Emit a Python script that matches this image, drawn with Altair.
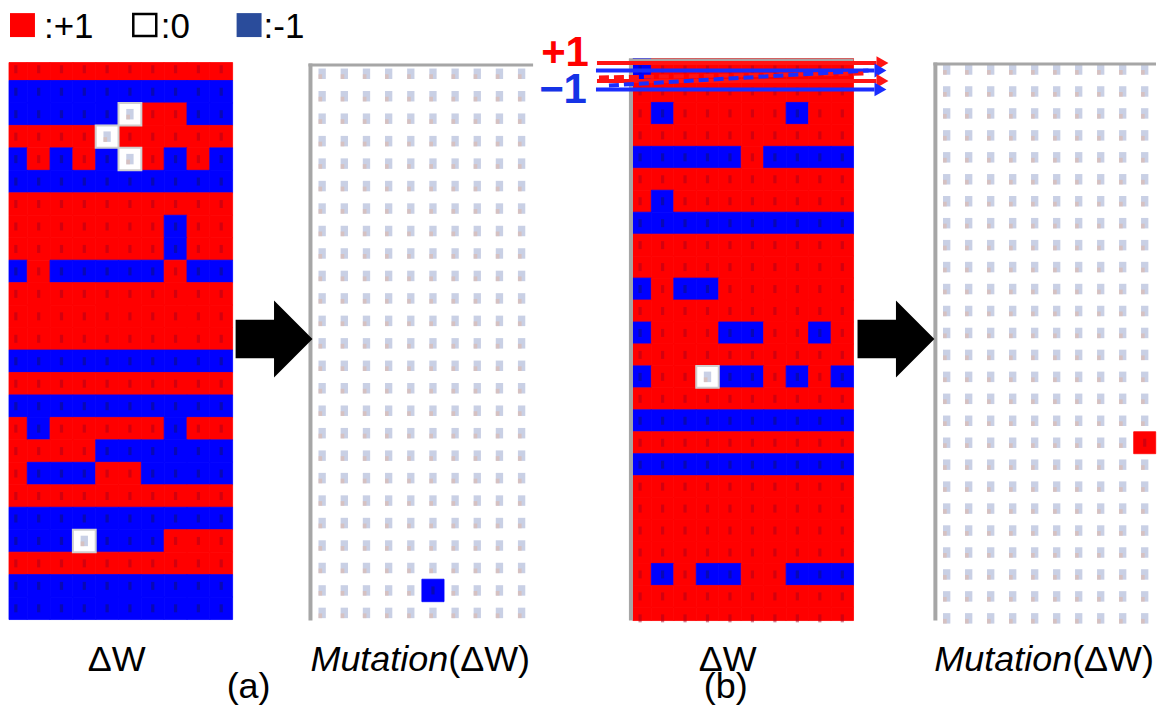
import altair as alt
import pandas as pd

W, H = 1149, 702
OFF = 8  # page margin: annotation coordinates below are page pixels

# ---------------- data: one string per row (top to bottom), "+"=+1, "0"=0, "-"=-1
DW_A = [
    "++++++++++", "----------", "-----0++--", "++++0+++++", "-+-+-0+-+-",
    "----------", "++++++++++", "+++++++-++", "+++++++-++", "-+-----+--",
    "++++++++++", "++++++++++", "++++++++++", "----------", "++++++++++",
    "----------", "+-+++++-++", "++++------", "+---++----", "++++++++++",
    "----------", "---0---+++", "++++++++++", "----------", "----------",
]
MUT_A = [
    "0000000000", "0000000000", "0000000000", "0000000000", "0000000000",
    "0000000000", "0000000000", "0000000000", "0000000000", "0000000000",
    "0000000000", "0000000000", "0000000000", "0000000000", "0000000000",
    "0000000000", "0000000000", "0000000000", "0000000000", "0000000000",
    "0000000000", "0000000000", "0000000000", "00000-0000", "0000000000",
]
DW_B = [
    "-+++++++++", "++++++++++", "+-+++++-++", "++++++++++", "-----+----",
    "++++++++++", "+-++++++++", "----------", "++++++++++", "++++++++++",
    "-+--++++++", "++++++++++", "-+++--++-+", "++++++++++", "-++0--+-+-",
    "++++++++++", "----------", "++++++++++", "----------", "++++++++++",
    "++++++++++", "++++++++++", "++++++++++", "+-+--++---", "++++++++++",
    "++++++++++",
]
MUT_B = [
    "0000000000", "0000000000", "0000000000", "0000000000", "0000000000",
    "0000000000", "0000000000", "0000000000", "0000000000", "0000000000",
    "0000000000", "0000000000", "0000000000", "0000000000", "0000000000",
    "0000000000", "0000000000", "000000000+", "0000000000", "0000000000",
    "0000000000", "0000000000", "0000000000", "0000000000", "0000000000",
    "0000000000",
]
LEGEND_LABELS = [":+1", ":0", ":-1"]
PANEL_LABELS = ["ΔW", "Mutation", "(ΔW)", "(a)", "(b)"]
ROW_LABELS = ["+1", "−1"]

VAL = {"+": 1, "0": 0, "-": -1}
FONT = "Liberation Sans"


def grid(rows):
    return pd.DataFrame(
        [{"col": c, "row": r, "v": VAL[ch]} for r, s in enumerate(rows) for c, ch in enumerate(s)]
    )


def sc(dom, px):
    return alt.Scale(domain=dom, range=[px[0] - OFF, px[1] - OFF], clamp=True, nice=False, zero=False)


FILL = "datum.v == 1 ? '#ff0000' : (datum.v == -1 ? '#0000ff' : '#ffffff')"
DOTC = "datum.v == 1 ? '#a8001c' : '#10106a'"
DOT_SHAPE = "M-0.4,-1L0.4,-1L0.4,1L-0.4,1Z"
ICON_SHAPE = "M-0.7,-1L0.7,-1L0.7,1L-0.7,1Z"
ICON2_SHAPE = "M-0.7,0.1L0,0.1L0,1L-0.7,1Z"


def panel(rows, xdom, xpx, ydom, ypx, full):
    xs, ys = sc(xdom, xpx), sc(ydom, ypx)
    ymax = ydom[1] - 0.05
    base = alt.Chart(grid(rows)).transform_calculate(
        col2="datum.col + 1", row2="datum.row + 1",
        cx="datum.col + 0.5", cy="datum.row + 0.5",
        fill=FILL, dot=DOTC,
    )
    inner = base.transform_filter(f"datum.cy < {ymax}")
    X = alt.X("col:Q", scale=xs, axis=None)
    Y = alt.Y("row:Q", scale=ys, axis=None)
    CX = alt.X("cx:Q", scale=xs, axis=None)
    CY = alt.Y("cy:Q", scale=ys, axis=None)
    src = base if full else base.transform_filter("datum.v != 0")
    layers = [
        src.mark_rect(strokeWidth=0.8).encode(
            x=X, x2="col2:Q", y=Y, y2="row2:Q",
            fill=alt.Fill("fill:N", scale=None), stroke=alt.Stroke("fill:N", scale=None),
        )
    ]
    if full:
        layers.append(
            base.transform_filter("datum.v == 0")
            .mark_rect(fill="white", stroke="#cfcfcf", strokeWidth=2)
            .encode(x=X, x2="col2:Q", y=Y, y2="row2:Q")
        )
    layers.append(
        inner.transform_filter("datum.v != 0")
        .mark_point(shape=DOT_SHAPE, filled=True, size=64, opacity=0.5, strokeWidth=0)
        .encode(x=CX, y=CY, color=alt.Color("dot:N", scale=None))
    )
    layers.append(
        inner.transform_filter("datum.v == 0")
        .mark_point(shape=ICON_SHAPE, filled=True, size=110, opacity=0.85, color="#bfc8e0", strokeWidth=0)
        .encode(x=CX, y=CY)
    )
    layers.append(
        inner.transform_filter("datum.v == 0")
        .mark_point(shape=ICON2_SHAPE, filled=True, size=110, opacity=0.6, color="#e0b8a8", strokeWidth=0)
        .encode(x=CX, y=CY)
    )
    return alt.layer(*layers)


pA = panel(DW_A, [0.2, 10], [9, 233], [0.2, 25], [62, 620], True)
pAm = panel(MUT_A, [0, 10], [311.6, 533.6], [0, 24.84], [62, 621], False)
pB = panel(DW_B, [0.18, 10], [634, 855], [0, 25.6], [58, 621], True)
pBm = panel(MUT_B, [0, 10], [937.3, 1157.7], [0, 25.6], [58, 621], False)

# ---------------- annotations in page pixel coordinates
AX = alt.Scale(domain=[OFF, W + OFF], range=[0, W], nice=False, zero=False)
AY = alt.Scale(domain=[OFF, H + OFF], range=[0, H], nice=False, zero=False)


def ax(f):
    return alt.X(f, scale=AX, axis=None)


def ay(f):
    return alt.Y(f, scale=AY, axis=None)


rects = pd.DataFrame([
    # legend squares
    dict(x=10, x2=35, y=12.5, y2=36.5, f="#ff0000", s="#ff0000", w=0),
    dict(x=133.5, x2=156.5, y=13.5, y2=35.5, f="#ffffff", s="#000000", w=2.5),
    dict(x=237, x2=262, y=12.5, y2=36.5, f="#2a4c9b", s="#2a4c9b", w=0),
    # gray panel frames
    dict(x=309, x2=313, y=63, y2=621, f="#a6a6a6", s="#a6a6a6", w=0),
    dict(x=309, x2=534, y=63, y2=66, f="#a6a6a6", s="#a6a6a6", w=0),
    dict(x=630, x2=634, y=58, y2=621, f="#a6a6a6", s="#a6a6a6", w=0),
    dict(x=630, x2=855, y=58, y2=61, f="#a6a6a6", s="#a6a6a6", w=0),
    dict(x=935, x2=939, y=62, y2=621, f="#a6a6a6", s="#a6a6a6", w=0),
    dict(x=935, x2=1158, y=62, y2=65, f="#a6a6a6", s="#a6a6a6", w=0),
])
rect_layer = alt.Chart(rects).mark_rect().encode(
    x=ax("x:Q"), x2="x2:Q", y=ay("y:Q"), y2="y2:Q",
    fill=alt.Fill("f:N", scale=None), stroke=alt.Stroke("s:N", scale=None),
    strokeWidth=alt.StrokeWidth("w:Q", scale=None),
)

solid = pd.DataFrame([
    dict(x=598, y=62.5, x2=878, y2=62.5, c="#ff1414"),
    dict(x=597, y=70, x2=876, y2=70, c="#1a2dff"),
    dict(x=598, y=80.5, x2=878, y2=80.5, c="#ff1414"),
    dict(x=597, y=89, x2=876, y2=89, c="#1a2dff"),
])
dashed = pd.DataFrame([
    dict(x=600, y=77, x2=870, y2=73, c="#ff1414"),
    dict(x=610, y=85, x2=870, y2=70, c="#1a2dff"),
])
heads = pd.DataFrame([
    dict(x=884, y=62.5, c="#ff1414"), dict(x=882, y=70, c="#1a2dff"),
    dict(x=884, y=80.5, c="#ff1414"), dict(x=882, y=89, c="#1a2dff"),
])
solid_layer = alt.Chart(solid).mark_rule(strokeWidth=4).encode(
    x=ax("x:Q"), x2="x2:Q", y=ay("y:Q"), y2="y2:Q", color=alt.Color("c:N", scale=None))
dashed_layer = alt.Chart(dashed).mark_rule(strokeWidth=4, strokeDash=[10, 5]).encode(
    x=ax("x:Q"), x2="x2:Q", y=ay("y:Q"), y2="y2:Q", color=alt.Color("c:N", scale=None))
head_layer = alt.Chart(heads).mark_point(shape="triangle-right", filled=True, size=190, opacity=1, strokeWidth=0).encode(
    x=ax("x:Q"), y=ay("y:Q"), color=alt.Color("c:N", scale=None))

BIG_ARROW = "M-1,-0.5L0,-0.5L0,-1L1,0L0,1L0,0.5L-1,0.5Z"
big = pd.DataFrame([dict(x=274.5, y=339), dict(x=897.5, y=339)])
big_layer = alt.Chart(big).mark_point(shape=BIG_ARROW, filled=True, size=77 * 77, color="black", opacity=1, strokeWidth=0).encode(
    x=ax("x:Q"), y=ay("y:Q"))

legend_txt = pd.DataFrame([
    dict(x=44, y=25, t=LEGEND_LABELS[0]),
    dict(x=161, y=25, t=LEGEND_LABELS[1]),
    dict(x=264, y=25, t=LEGEND_LABELS[2]),
])
legend_layer = alt.Chart(legend_txt).mark_text(align="left", baseline="middle", dy=1, font=FONT, fontSize=35, color="black").encode(
    x=ax("x:Q"), y=ay("y:Q"), text="t:N")

center_txt = pd.DataFrame([
    dict(x=117, y=672, t=PANEL_LABELS[0]),
    dict(x=729, y=672, t=PANEL_LABELS[0]),
    dict(x=249, y=699, t=PANEL_LABELS[3]),
    dict(x=727, y=699, t=PANEL_LABELS[4]),
])
center_layer = alt.Chart(center_txt).mark_text(align="center", baseline="alphabetic", font=FONT, fontSize=36, color="black").encode(
    x=ax("x:Q"), y=ay("y:Q"), text="t:N")

ital_txt = pd.DataFrame([dict(x=449, y=672, t=PANEL_LABELS[1]), dict(x=1074, y=672, t=PANEL_LABELS[1])])
ital_layer = alt.Chart(ital_txt).mark_text(align="right", baseline="alphabetic", font=FONT, fontSize=36, fontStyle="italic", color="black").encode(
    x=ax("x:Q"), y=ay("y:Q"), text="t:N")
paren_txt = pd.DataFrame([dict(x=449, y=672, t=PANEL_LABELS[2]), dict(x=1074, y=672, t=PANEL_LABELS[2])])
paren_layer = alt.Chart(paren_txt).mark_text(align="left", baseline="alphabetic", font=FONT, fontSize=36, color="black").encode(
    x=ax("x:Q"), y=ay("y:Q"), text="t:N")

pm_txt = pd.DataFrame([
    dict(x=566, y=65, t=ROW_LABELS[0], c="#ff0000"),
    dict(x=564, y=103, t=ROW_LABELS[1], c="#1533e6"),
])
pm_layer = alt.Chart(pm_txt).mark_text(align="center", baseline="alphabetic", font=FONT, fontSize=42, fontWeight="bold").encode(
    x=ax("x:Q"), y=ay("y:Q"), text="t:N", color=alt.Color("c:N", scale=None))

annot = alt.layer(rect_layer, solid_layer, dashed_layer, head_layer, big_layer,
                  legend_layer, center_layer, ital_layer, paren_layer, pm_layer)

chart = (
    alt.layer(pA, pAm, pB, pBm, annot)
    .resolve_scale(x="independent", y="independent")
    .properties(width=W, height=H, padding=0, background="white")
    .configure_view(stroke=None)
)

chart.save("out.html", embed_options={"renderer": "svg", "actions": False})
